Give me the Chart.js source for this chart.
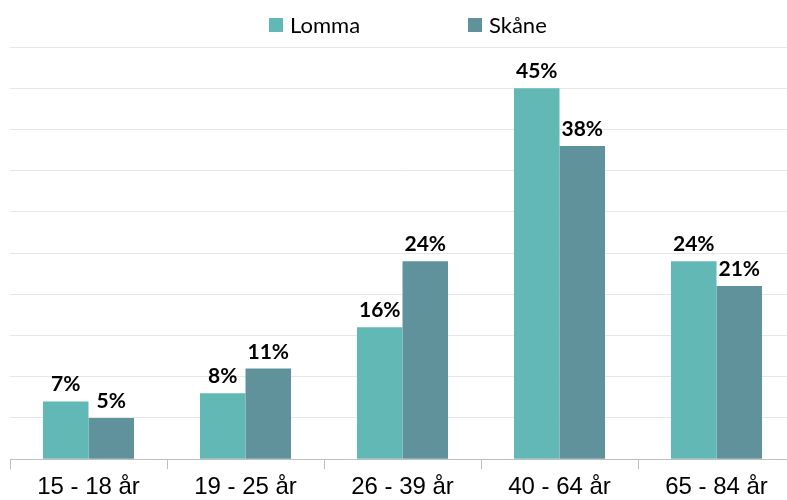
<!DOCTYPE html>
<html>
<head>
<meta charset="utf-8">
<script src="https://cdn.jsdelivr.net/npm/chart.js@4/dist/chart.umd.min.js"></script>
<style>
  html, body { margin: 0; padding: 0; background: #fff; overflow: hidden; }
  #wrap { width: 795px; height: 500px; overflow: hidden; }
</style>
</head>
<body>
<div id="wrap"><canvas id="ageChart" width="795" height="506"></canvas></div>
<script>
const categories = ['15 - 18 år', '19 - 25 år', '26 - 39 år', '40 - 64 år', '65 - 84 år'];
const lomma = [7, 8, 16, 45, 24];
const skane = [5, 11, 24, 38, 21];

// draws the % labels above each bar
const valueLabels = {
    id: 'valueLabels',
    afterDatasetsDraw(chart) {
        const c = chart.ctx;
        c.save();
        c.font = 'bold 21px Lato, "Open Sans", sans-serif';
        c.fillStyle = '#000';
        c.textAlign = 'center';
        c.textBaseline = 'alphabetic';
        chart.data.datasets.forEach((ds, i) => {
            chart.getDatasetMeta(i).data.forEach((bar, j) => {
                c.fillText(ds.data[j] + '%', bar.x, bar.y - 10);
            });
        });
        c.restore();
    }
};

// legend drawn by hand so the items can sit far apart like the original
const topLegend = {
    id: 'topLegend',
    afterDraw(chart) {
        const c = chart.ctx;
        const spots = [269, 468];
        c.save();
        c.font = '22px Lato, "Open Sans", sans-serif';
        c.textBaseline = 'middle';
        chart.data.datasets.forEach((ds, i) => {
            c.fillStyle = ds.backgroundColor;
            c.fillRect(spots[i], 18, 14, 14);
            c.fillStyle = '#000';
            c.fillText(ds.label, spots[i] + 21, 26);
        });
        c.restore();
    }
};

new Chart(document.getElementById('ageChart').getContext('2d'), {
    type: 'bar',
    data: {
        labels: categories,
        datasets: [
            { label: 'Lomma', data: lomma, backgroundColor: '#62b8b5' },
            { label: 'Skåne', data: skane, backgroundColor: '#60929c' }
        ]
    },
    options: {
        responsive: false,
        animation: false,
        layout: { padding: { left: 10, right: 0, top: 47, bottom: 0 } },
        datasets: { bar: { categoryPercentage: 0.58, barPercentage: 1 } },
        plugins: {
            tooltip: { enabled: false },
            legend: { display: false }
        },
        scales: {
            x: {
                grid: { offset: true, drawOnChartArea: false, tickLength: 10, color: '#bfbfbf' },
                border: { color: '#bfbfbf' },
                ticks: { color: '#000', padding: 4, font: { family: '"Liberation Sans", Arial, sans-serif', size: 24 } }
            },
            y: {
                min: 0, max: 50,
                ticks: { display: false, stepSize: 5 },
                grid: { color: '#e6e6e6', drawTicks: false },
                border: { display: false }
            }
        }
    },
    plugins: [valueLabels, topLegend]
});
</script>
</body>
</html>
